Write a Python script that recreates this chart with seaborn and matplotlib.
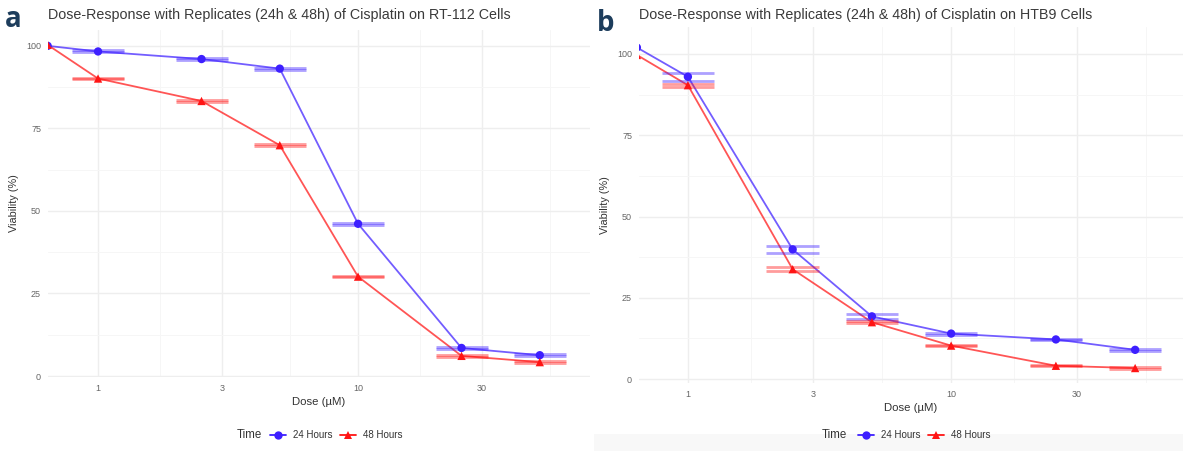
import numpy as np
import pandas as pd
import matplotlib
matplotlib.use("Agg")
import matplotlib.pyplot as plt
from matplotlib.lines import Line2D
from matplotlib.patches import Rectangle
from matplotlib.ticker import FixedLocator, MultipleLocator, NullFormatter
import seaborn as sns

# ==========================================
# DATA
# ==========================================

doses = [0.64, 1, 2.5, 5, 10, 25, 50]
time_labels = ["24 Hours", "48 Hours"]

rt112_24h = [100.0, 98.3, 96.0, 93.1, 46.1, 8.5, 6.3]
rt112_48h = [100.3, 90.1, 83.3, 69.9, 30.1, 6.1, 4.2]
rt112_24h_sd = [0, 0.3, 0.35, 0.3, 0.35, 0.35, 0.3]
rt112_48h_sd = [0, 0.25, 0.25, 0.25, 0.25, 0.25, 0.2]

htb9_24h = [102.0, 93.0, 39.9, 19.3, 14.0, 12.2, 9.0]
htb9_48h = [99.7, 90.4, 33.8, 17.5, 10.3, 4.1, 3.4]
htb9_24h_sd = [0, 1.3, 1.0, 0.7, 0.3, 0.25, 0.25]
htb9_48h_sd = [0, 0.45, 0.7, 0.35, 0.25, 0.2, 0.2]

x_ticks = [1, 3, 10, 30]
y_ticks = [0, 25, 50, 75, 100]

titles = [
    "Dose-Response with Replicates (24h & 48h) of Cisplatin on RT-112 Cells",
    "Dose-Response with Replicates (24h & 48h) of Cisplatin on HTB9 Cells",
]

palette = {"24 Hours": "#3D1FFF", "48 Hours": "#FF1414"}
markers = {"24 Hours": "o", "48 Hours": "^"}


def build_frame(v24, v48, sd24, sd48):
    rows = []
    for t, vals, sds in [("24 Hours", v24, sd24), ("48 Hours", v48, sd48)]:
        for d, v, s in zip(doses, vals, sds):
            rows.append({"dose": d, "viability": v, "sd": s, "time": t})
    return pd.DataFrame(rows)


panels = [
    build_frame(rt112_24h, rt112_48h, rt112_24h_sd, rt112_48h_sd),
    build_frame(htb9_24h, htb9_48h, htb9_24h_sd, htb9_48h_sd),
]

# ==========================================
# FIGURE
# ==========================================

sns.set_theme(style="white")
plt.rcParams["font.family"] = ["Liberation Sans", "DejaVu Sans"]

W, H = 1183, 451
fig = plt.figure(figsize=(W / 100, H / 100), dpi=100)
fig.patch.set_facecolor("white")

# panel b has a faint shadow along its bottom in the source image
fig.patches.append(Rectangle((594 / W, 0), 1 - 594 / W, 17 / H,
                             transform=fig.transFigure, facecolor="#F8F8F8",
                             edgecolor="none", zorder=0))

# pixel boxes: left, right, top, bottom
boxes = [(48, 590, 30, 377), (639, 1183, 27, 383)]
ylims = [(-0.3, 104.8), (-1.2, 108.3)]
xlims = [(0.642, 78), (0.652, 76)]

axes = []
for (l, r, t, b) in boxes:
    ax = fig.add_axes([l / W, (H - b) / H, (r - l) / W, (b - t) / H])
    axes.append(ax)

grid_major = "#EEEEEE"
grid_minor = "#F6F6F6"

for i, (ax, df) in enumerate(zip(axes, panels)):
    ax.set_xscale("log")

    # connecting lines (a bit transparent) then solid markers
    sns.lineplot(data=df, x="dose", y="viability", hue="time",
                 palette=palette, errorbar=None, legend=False,
                 linewidth=1.3, alpha=0.72, ax=ax, zorder=3)

    # replicate error bars: caps spanning +-0.1 decade
    for t in time_labels:
        sub = df[(df["time"] == t) & (df["sd"] > 0)]
        lo = sub["viability"] - sub["sd"]
        hi = sub["viability"] + sub["sd"]
        xmin = sub["dose"] / 10 ** 0.1
        xmax = sub["dose"] * 10 ** 0.1
        ax.hlines(hi, xmin, xmax, color=palette[t], alpha=0.42,
                  linewidth=2.0, zorder=4)
        ax.hlines(lo, xmin, xmax, color=palette[t], alpha=0.42,
                  linewidth=2.0, zorder=4)
        ax.vlines(sub["dose"], lo, hi, color=palette[t], alpha=0.42,
                  linewidth=1.5, zorder=4)

    sns.scatterplot(data=df, x="dose", y="viability", hue="time",
                    style="time", palette=palette, markers=markers,
                    s=36, edgecolor="none", legend=False, ax=ax, zorder=5)

    ax.set_xlim(*xlims[i])
    ax.set_ylim(*ylims[i])

    ax.xaxis.set_major_locator(FixedLocator(x_ticks))
    ax.set_xticklabels([str(v) for v in x_ticks])
    minor_x = np.sqrt(np.array([0.3] + x_ticks) * np.array(x_ticks + [100]))
    ax.xaxis.set_minor_locator(FixedLocator(minor_x))
    ax.xaxis.set_minor_formatter(NullFormatter())
    ax.yaxis.set_major_locator(FixedLocator(y_ticks))
    ax.yaxis.set_minor_locator(MultipleLocator(12.5))

    ax.grid(True, which="major", color=grid_major, linewidth=1.0, zorder=0)
    ax.grid(True, which="minor", color=grid_minor, linewidth=0.7, zorder=0)
    ax.set_axisbelow(True)
    for sp in ax.spines.values():
        sp.set_visible(False)

    ax.tick_params(axis="both", which="both", length=0, labelsize=6.5,
                   labelcolor="#666666")
    ax.tick_params(axis="x", pad=5)
    ax.tick_params(axis="y", pad=5)

    ax.set_xlabel("Dose (\u00b5M)", fontsize=8.2, color="#333333",
                  labelpad=3)
    ax.set_ylabel("Viability (%)", fontsize=7.8, color="#333333",
                  labelpad=5)
    ax.set_title(titles[i], loc="left", fontsize=10.3, color="#3A3A3A",
                 pad=8 if i == 0 else 6)

# ==========================================
# LEGENDS (title on the left, like ggplot)
# ==========================================

handles = [
    Line2D([0], [0], color=palette[t], marker=markers[t], markersize=6,
           linewidth=1.3, markeredgewidth=0)
    for t in time_labels
]

legend_specs = [(237, 270), (822, 858)]
for (tx, hx) in legend_specs:
    fig.text(tx / W, (H - 435) / H, "Time", fontsize=8.3, color="#333333",
             ha="left", va="center")
    fig.legend(handles, time_labels, loc="center left",
               bbox_to_anchor=(hx / W, (H - 435) / H),
               bbox_transform=fig.transFigure, ncol=2, frameon=False,
               fontsize=7, handlelength=1.65, handletextpad=0.7,
               columnspacing=0.8, borderpad=0, borderaxespad=0,
               labelcolor="#333333")

# panel letters
fig.text(5 / W, (H - 27) / H, "a", fontsize=20, fontweight="bold",
         color="#1D3D5C", family="Open Sans", ha="left", va="baseline")
fig.text(597 / W, (H - 31) / H, "b", fontsize=20, fontweight="bold",
         color="#1D3D5C", family="Open Sans", ha="left", va="baseline")

fig.savefig("out.png", dpi=100)
